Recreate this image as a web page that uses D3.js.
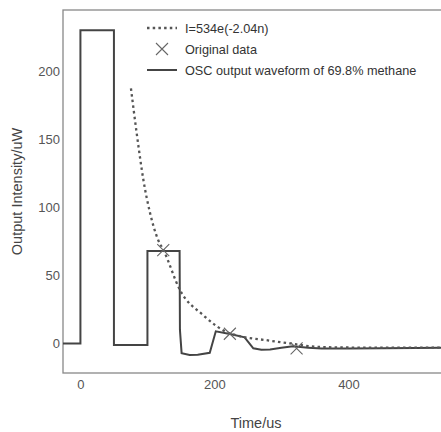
<!DOCTYPE html>
<meta charset="utf-8">
<script src="https://d3js.org/d3.v7.min.js"></script>
<style>
body { margin: 0; background: #fff; }
svg { display: block; font-family: "Liberation Sans", Arial, sans-serif; }
.axis path, .axis line { display: none; }
.axis text { font-size: 13px; fill: #555; }
.frame { fill: none; stroke: #888; stroke-width: 1.3; }
.wave { fill: none; stroke: #444; stroke-width: 2; stroke-linejoin: miter; }
.fit { fill: none; stroke: #555; stroke-width: 2.3; stroke-dasharray: 2.5 3.2; }
.mark { stroke: #666; stroke-width: 1.1; }
.legend text { font-size: 12.7px; fill: #333; }
.label { font-size: 14.5px; fill: #444; }
</style>
<body>
<script>

// OSC output waveform (time in us, intensity in uW)
var waveT = [-26, 0, 0, 50, 50, 100, 100, 148, 148.5, 151, 163, 175, 193, 202, 225, 245, 258, 270, 283, 300, 317, 340, 360, 400, 450, 500, 550]
var waveI = [0, 0, 230, 230, -1, -1, 68, 68, 10, -7, -8.4, -8.2, -6.8, 9, 6.8, 4.6, -3.5, -4.5, -4.3, -3, -2, -3, -3.7, -3.6, -3.4, -3.2, -3]

// fitted curve I=534e(-2.04n)
var fitT = [75.4, 84, 94, 104, 116, 124, 148.5, 183, 223, 283, 313, 340, 380, 450, 550]
var fitI = [187.3, 154.3, 120, 95.6, 76, 68.6, 39.3, 20.9, 7.5, 2.1, 0.1, -1.8, -2.8, -3, -3]

// original data points
var origT = [123.6, 223, 322.6]
var origI = [68.6, 7.2, -3.5]

var xTicks = [0, 200, 400]
var yTicks = [0, 50, 100, 150, 200]

var legendLabels = ["I=534e(-2.04n)", "Original data", "OSC output waveform of 69.8% methane"]

var W = 441, H = 432
var margin = {left: 63, top: 10, right: 449, bottom: 373}

var svg = d3.select("body").append("svg")
  .attr("width", W)
  .attr("height", H)

var x = d3.scaleLinear().domain([-26, 550]).range([margin.left, margin.right])
var y = d3.scaleLinear().domain([-21.6, 244.8]).range([margin.bottom, margin.top])

svg.append("g")
  .attr("class", "x axis")
  .attr("transform", "translate(0," + margin.bottom + ")")
  .call(d3.axisBottom(x).tickValues(xTicks).tickSize(0).tickPadding(7))

svg.append("g")
  .attr("class", "y axis")
  .attr("transform", "translate(" + margin.left + ",0)")
  .call(d3.axisLeft(y).tickValues(yTicks).tickSize(0).tickPadding(3))

svg.append("rect")
  .attr("class", "frame")
  .attr("x", margin.left)
  .attr("y", margin.top)
  .attr("width", margin.right - margin.left)
  .attr("height", margin.bottom - margin.top)

var line = d3.line()
  .x(function(d) { return x(d[0]) })
  .y(function(d) { return y(d[1]) })

var fitLine = d3.line()
  .x(function(d) { return x(d[0]) })
  .y(function(d) { return y(d[1]) })
  .curve(d3.curveMonotoneX)

svg.append("path")
  .attr("class", "wave")
  .attr("d", line(d3.zip(waveT, waveI)))

svg.append("path")
  .attr("class", "fit")
  .attr("d", fitLine(d3.zip(fitT, fitI)))

svg.selectAll(".mark")
  .data(d3.zip(origT, origI))
  .enter().append("path")
  .attr("class", "mark")
  .attr("transform", function(d) { return "translate(" + x(d[0]) + "," + y(d[1]) + ")" })
  .attr("d", "M-6,-6L6,6M-6,6L6,-6")

// legend
var legend = svg.append("g").attr("class", "legend")
var rowY = [28, 49, 70]

legend.append("line")
  .attr("class", "fit")
  .attr("x1", 147).attr("x2", 177)
  .attr("y1", rowY[0]).attr("y2", rowY[0])

legend.append("path")
  .attr("class", "mark")
  .attr("transform", "translate(162," + rowY[1] + ")")
  .attr("d", "M-6,-6L6,6M-6,6L6,-6")

legend.append("line")
  .attr("class", "wave")
  .attr("x1", 147).attr("x2", 177)
  .attr("y1", rowY[2]).attr("y2", rowY[2])

legend.selectAll("text")
  .data(legendLabels)
  .enter().append("text")
  .attr("x", 185)
  .attr("y", function(d, i) { return rowY[i] + 4.5 })
  .text(function(d) { return d })

svg.append("text")
  .attr("class", "label")
  .attr("text-anchor", "middle")
  .attr("x", (margin.left + margin.right) / 2)
  .attr("y", 428)
  .text("Time/us")

svg.append("text")
  .attr("class", "label")
  .attr("text-anchor", "middle")
  .attr("transform", "translate(22," + (margin.top + margin.bottom) / 2 + ") rotate(-90)")
  .text("Output Intensity/uW")

</script>
</body>
